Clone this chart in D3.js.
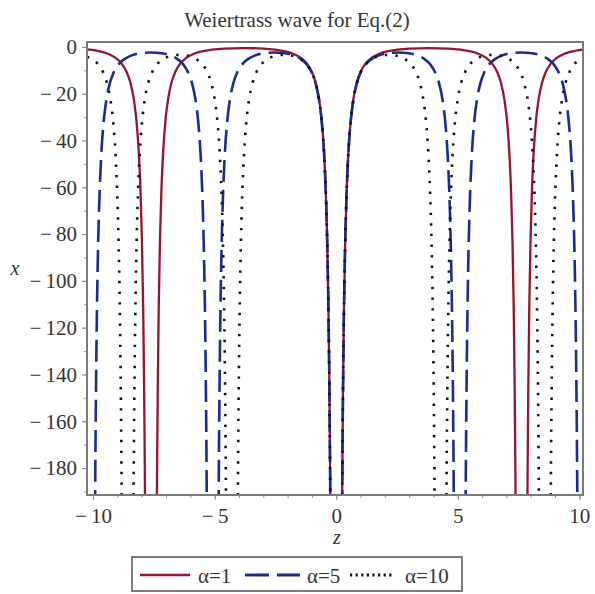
<!DOCTYPE html>
<html>
<head>
<meta charset="utf-8">
<script src="https://cdnjs.cloudflare.com/ajax/libs/d3/7.8.5/d3.min.js"></script>
<style>
  body { margin: 0; background: #fff; }
  text { font-family: "Liberation Serif", "DejaVu Serif", serif; fill: #333; }
</style>
</head>
<body>
<svg id="chart" width="595" height="594"></svg>
<script>
// data: [z, x] pairs, null breaks the line at a pole
var alpha1 = [
  [-10.25,-1.1],[-10.12,-1.2],[-9.72,-1.9],[-9.37,-3.0],[-9.07,-4.7],[-8.82,-7.2],[-8.62,-10.7],[-8.47,-15.1],
  [-8.32,-22.7],[-8.22,-31.1],[-8.12,-45.2],[-8.05,-61.4],[-7.99,-83.2],[-7.94,-111.5],[-7.90,-145.9],[-7.87,-183.2],[-7.84,-236.8],
  null,
  [-7.40,-236.8],[-7.37,-183.2],[-7.34,-145.9],[-7.30,-111.5],[-7.25,-83.2],[-7.19,-61.4],[-7.12,-45.2],[-7.02,-31.1],
  [-6.92,-22.7],[-6.77,-15.1],[-6.62,-10.7],[-6.42,-7.2],[-6.17,-4.7],[-5.87,-3.0],[-5.52,-1.9],[-5.12,-1.2],[-4.62,-0.7],
  [-3.81,-0.5],[-3.0,-0.7],[-2.5,-1.2],[-2.1,-1.9],[-1.75,-3.0],[-1.45,-4.7],[-1.2,-7.2],[-1.0,-10.7],[-0.85,-15.1],
  [-0.7,-22.7],[-0.6,-31.1],[-0.5,-45.2],[-0.43,-61.4],[-0.37,-83.2],[-0.32,-111.5],[-0.28,-145.9],[-0.25,-183.2],[-0.22,-236.8],
  null,
  [0.22,-236.8],[0.25,-183.2],[0.28,-145.9],[0.32,-111.5],[0.37,-83.2],[0.43,-61.4],[0.5,-45.2],[0.6,-31.1],[0.7,-22.7],
  [0.85,-15.1],[1.0,-10.7],[1.2,-7.2],[1.45,-4.7],[1.75,-3.0],[2.1,-1.9],[2.5,-1.2],[3.0,-0.7],[3.81,-0.5],
  [4.62,-0.7],[5.12,-1.2],[5.52,-1.9],[5.87,-3.0],[6.17,-4.7],[6.42,-7.2],[6.62,-10.7],[6.77,-15.1],[6.92,-22.7],
  [7.02,-31.1],[7.12,-45.2],[7.19,-61.4],[7.25,-83.2],[7.30,-111.5],[7.34,-145.9],[7.37,-183.2],[7.40,-236.8],
  null,
  [7.84,-236.8],[7.87,-183.2],[7.90,-145.9],[7.94,-111.5],[7.99,-83.2],[8.05,-61.4],[8.12,-45.2],[8.22,-31.1],
  [8.32,-22.7],[8.47,-15.1],[8.62,-10.7],[8.82,-7.2],[9.07,-4.7],[9.37,-3.0],[9.72,-1.9],[10.12,-1.2],[10.15,-1.15]
];

var alpha5 = [
  [-9.94,-237.2],[-9.91,-183.6],[-9.88,-146.2],[-9.84,-111.8],[-9.79,-83.5],[-9.73,-61.7],[-9.66,-45.5],[-9.56,-31.5],
  [-9.46,-23.0],[-9.31,-15.5],[-9.16,-11.1],[-8.96,-7.6],[-8.71,-5.2],[-8.41,-3.6],[-8.06,-2.7],[-7.62,-2.4],
  [-7.18,-2.7],[-6.83,-3.6],[-6.53,-5.2],[-6.28,-7.6],[-6.08,-11.1],[-5.93,-15.5],[-5.78,-23.0],[-5.68,-31.5],
  [-5.58,-45.5],[-5.51,-61.7],[-5.45,-83.5],[-5.40,-111.8],[-5.36,-146.2],[-5.33,-183.6],[-5.30,-237.2],
  null,
  [-4.86,-237.2],[-4.83,-183.6],[-4.80,-146.2],[-4.76,-111.8],[-4.71,-83.5],[-4.65,-61.7],[-4.58,-45.5],[-4.48,-31.5],
  [-4.38,-23.0],[-4.23,-15.5],[-4.08,-11.1],[-3.88,-7.6],[-3.63,-5.2],[-3.33,-3.6],[-2.98,-2.7],[-2.54,-2.4],
  [-2.1,-2.7],[-1.75,-3.6],[-1.45,-5.2],[-1.2,-7.6],[-1.0,-11.1],[-0.85,-15.5],[-0.7,-23.0],[-0.6,-31.5],
  [-0.5,-45.5],[-0.43,-61.7],[-0.37,-83.5],[-0.32,-111.8],[-0.28,-146.2],[-0.25,-183.6],[-0.22,-237.2],
  null,
  [0.22,-237.2],[0.25,-183.6],[0.28,-146.2],[0.32,-111.8],[0.37,-83.5],[0.43,-61.7],[0.5,-45.5],[0.6,-31.5],
  [0.7,-23.0],[0.85,-15.5],[1.0,-11.1],[1.2,-7.6],[1.45,-5.2],[1.75,-3.6],[2.1,-2.7],[2.54,-2.4],
  [2.98,-2.7],[3.33,-3.6],[3.63,-5.2],[3.88,-7.6],[4.08,-11.1],[4.23,-15.5],[4.38,-23.0],[4.48,-31.5],
  [4.58,-45.5],[4.65,-61.7],[4.71,-83.5],[4.76,-111.8],[4.80,-146.2],[4.83,-183.6],[4.86,-237.2],
  null,
  [5.30,-237.2],[5.33,-183.6],[5.36,-146.2],[5.40,-111.8],[5.45,-83.5],[5.51,-61.7],[5.58,-45.5],[5.68,-31.5],
  [5.78,-23.0],[5.93,-15.5],[6.08,-11.1],[6.28,-7.6],[6.53,-5.2],[6.83,-3.6],[7.18,-2.7],[7.62,-2.4],
  [8.06,-2.7],[8.41,-3.6],[8.71,-5.2],[8.96,-7.6],[9.16,-11.1],[9.31,-15.5],[9.46,-23.0],[9.56,-31.5],
  [9.66,-45.5],[9.73,-61.7],[9.79,-83.5],[9.84,-111.8],[9.88,-146.2],[9.91,-183.6],[9.94,-237.2]
];

var alpha10 = [
  [-10.25,-4.2],[-10.03,-5.3],[-9.78,-7.6],[-9.58,-11.0],[-9.43,-15.4],[-9.28,-22.9],[-9.18,-31.3],[-9.08,-45.4],
  [-9.01,-61.5],[-8.95,-83.4],[-8.90,-111.7],[-8.86,-146.0],[-8.83,-183.4],[-8.80,-237.0],
  null,
  [-8.36,-237.0],[-8.33,-183.4],[-8.30,-146.0],[-8.26,-111.7],[-8.21,-83.4],[-8.15,-61.5],[-8.08,-45.4],[-7.98,-31.3],
  [-7.88,-22.9],[-7.73,-15.4],[-7.58,-11.0],[-7.38,-7.6],[-7.13,-5.3],[-6.83,-3.9],[-6.435,-3.4],
  [-6.04,-3.9],[-5.74,-5.3],[-5.49,-7.6],[-5.29,-11.0],[-5.14,-15.4],[-4.99,-22.9],[-4.89,-31.3],[-4.79,-45.4],
  [-4.72,-61.5],[-4.66,-83.4],[-4.61,-111.7],[-4.57,-146.0],[-4.54,-183.4],[-4.51,-237.0],
  null,
  [-4.07,-237.0],[-4.04,-183.4],[-4.01,-146.0],[-3.97,-111.7],[-3.92,-83.4],[-3.86,-61.5],[-3.79,-45.4],[-3.69,-31.3],
  [-3.59,-22.9],[-3.44,-15.4],[-3.29,-11.0],[-3.09,-7.6],[-2.84,-5.3],[-2.54,-3.9],[-2.145,-3.4],
  [-1.75,-3.9],[-1.45,-5.3],[-1.2,-7.6],[-1.0,-11.0],[-0.85,-15.4],[-0.7,-22.9],[-0.6,-31.3],[-0.5,-45.4],
  [-0.43,-61.5],[-0.37,-83.4],[-0.32,-111.7],[-0.28,-146.0],[-0.25,-183.4],[-0.22,-237.0],
  null,
  [0.22,-237.0],[0.25,-183.4],[0.28,-146.0],[0.32,-111.7],[0.37,-83.4],[0.43,-61.5],[0.5,-45.4],[0.6,-31.3],
  [0.7,-22.9],[0.85,-15.4],[1.0,-11.0],[1.2,-7.6],[1.45,-5.3],[1.75,-3.9],[2.145,-3.4],
  [2.54,-3.9],[2.84,-5.3],[3.09,-7.6],[3.29,-11.0],[3.44,-15.4],[3.59,-22.9],[3.69,-31.3],[3.79,-45.4],
  [3.86,-61.5],[3.92,-83.4],[3.97,-111.7],[4.01,-146.0],[4.04,-183.4],[4.07,-237.0],
  null,
  [4.51,-237.0],[4.54,-183.4],[4.57,-146.0],[4.61,-111.7],[4.66,-83.4],[4.72,-61.5],[4.79,-45.4],[4.89,-31.3],
  [4.99,-22.9],[5.14,-15.4],[5.29,-11.0],[5.49,-7.6],[5.74,-5.3],[6.04,-3.9],[6.435,-3.4],
  [6.83,-3.9],[7.13,-5.3],[7.38,-7.6],[7.58,-11.0],[7.73,-15.4],[7.88,-22.9],[7.98,-31.3],[8.08,-45.4],
  [8.15,-61.5],[8.21,-83.4],[8.26,-111.7],[8.30,-146.0],[8.33,-183.4],[8.36,-237.0],
  null,
  [8.80,-237.0],[8.83,-183.4],[8.86,-146.0],[8.90,-111.7],[8.95,-83.4],[9.01,-61.5],[9.08,-45.4],[9.18,-31.3],
  [9.28,-22.9],[9.43,-15.4],[9.58,-11.0],[9.78,-7.6],[10.03,-5.3],[10.15,-4.6]
];

var xTicks = [-10, -5, 0, 5, 10],
	yTicks = [0, -20, -40, -60, -80, -100, -120, -140, -160, -180],
	seriesNames = ["\u03b1=1", "\u03b1=5", "\u03b1=10"],
	titleText = "Weiertrass wave for Eq.(2)";

var svg = d3.select("#chart"),
	plotL = 87, plotR = 583, plotT = 42, plotB = 495;

var x = d3.scaleLinear().domain([-10.25, 10.15]).range([plotL, plotR]),
	y = d3.scaleLinear().domain([-191.5, 2.1]).range([plotB, plotT]);

var styles = [
	{ color: "#951530", width: 2.3, dash: null, legDash: null },
	{ color: "#1c2b8c", width: 2.6, dash: "22,8", legDash: "24,8" },
	{ color: "#111111", width: 2.6, dash: "2.4,8.2", legDash: "2.2,3.4" }
];

// Maple style minus with a thin gap
function fmt(v) { return v < 0 ? "\u2212\u2009" + Math.abs(v) : "" + v; }

svg.append("text")
	.attr("x", 297).attr("y", 27)
	.attr("text-anchor", "middle")
	.style("font-size", "21px")
	.text(titleText);

// clip for the curves
svg.append("clipPath").attr("id", "plotClip")
	.append("rect")
	.attr("x", plotL).attr("y", plotT)
	.attr("width", plotR - plotL).attr("height", plotB - plotT);

// minor ticks
svg.append("g")
	.attr("transform", "translate(0," + plotB + ")")
	.call(d3.axisBottom(x).tickValues(d3.range(-10, 11, 1)).tickSize(3).tickFormat(""))
	.call(function(g){ g.select(".domain").remove(); g.selectAll("line").attr("stroke", "#999"); });
svg.append("g")
	.attr("transform", "translate(" + plotL + ",0)")
	.call(d3.axisLeft(y).tickValues(d3.range(-190, 1, 10)).tickSize(3).tickFormat(""))
	.call(function(g){ g.select(".domain").remove(); g.selectAll("line").attr("stroke", "#999"); });

// major ticks
svg.append("g")
	.attr("transform", "translate(0," + plotB + ")")
	.call(d3.axisBottom(x).tickValues(xTicks).tickSize(5).tickPadding(8).tickFormat(fmt))
	.call(function(g){
		g.select(".domain").remove();
		g.selectAll("line").attr("stroke", "#888");
		g.selectAll("text").style("font-size", "21px").attr("fill", "#333")
			.attr("font-family", "Liberation Serif");
	});
svg.append("g")
	.attr("transform", "translate(" + plotL + ",0)")
	.call(d3.axisLeft(y).tickValues(yTicks).tickSize(5).tickPadding(5).tickFormat(fmt))
	.call(function(g){
		g.select(".domain").remove();
		g.selectAll("line").attr("stroke", "#888");
		g.selectAll("text").style("font-size", "21px").attr("fill", "#333")
			.attr("font-family", "Liberation Serif");
	});

var line = d3.line()
	.defined(function(d){ return d !== null; })
	.x(function(d){ return x(d[0]); })
	.y(function(d){ return y(d[1]); })
	.curve(d3.curveMonotoneX);

var plot = svg.append("g").attr("clip-path", "url(#plotClip)");
[alpha1, alpha5, alpha10].forEach(function(data, i){
	plot.append("path")
		.attr("d", line(data))
		.attr("fill", "none")
		.attr("stroke", styles[i].color)
		.attr("stroke-width", styles[i].width)
		.attr("stroke-dasharray", styles[i].dash);
});

// frame
svg.append("rect")
	.attr("x", plotL).attr("y", plotT)
	.attr("width", plotR - plotL).attr("height", plotB - plotT)
	.attr("fill", "none").attr("stroke", "#7a7a7a").attr("stroke-width", 2);

// axis labels
svg.append("text").attr("x", 337).attr("y", 544).attr("text-anchor", "middle")
	.style("font-size", "20px").style("font-style", "italic").text("z");
svg.append("text").attr("x", 15).attr("y", 275).attr("text-anchor", "middle")
	.style("font-size", "20px").style("font-style", "italic").text("x");

// legend
var legend = svg.append("g");
legend.append("rect")
	.attr("x", 132).attr("y", 557).attr("width", 330).attr("height", 34)
	.attr("fill", "#fff").attr("stroke", "#7a7a7a").attr("stroke-width", 2);
var legX = [[140, 190, 198], [245, 300, 307], [350, 394, 405]];
seriesNames.forEach(function(name, i){
	legend.append("line")
		.attr("x1", legX[i][0]).attr("x2", legX[i][1])
		.attr("y1", 575).attr("y2", 575)
		.attr("stroke", styles[i].color)
		.attr("stroke-width", styles[i].width + 0.3)
		.attr("stroke-dasharray", styles[i].legDash);
	legend.append("text")
		.attr("x", legX[i][2]).attr("y", 583)
		.style("font-size", "21px")
		.text(name);
});
</script>
</body>
</html>
